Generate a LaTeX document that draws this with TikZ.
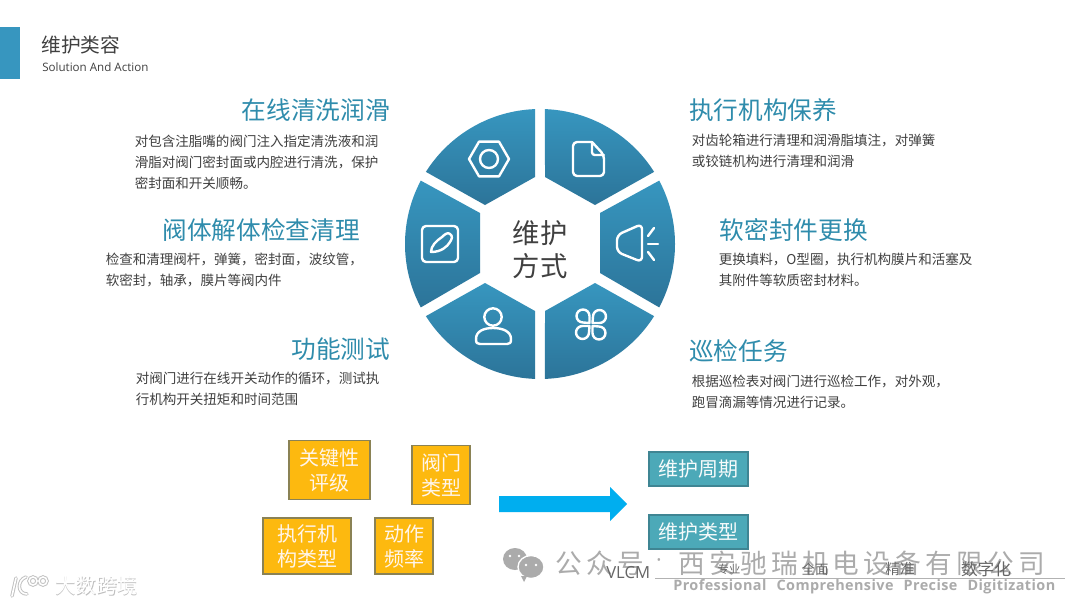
\documentclass[tikz,border=0pt]{standalone}
\usepackage{fontspec}
\setmainfont{Noto Sans CJK SC}
\newfontfamily\latinf{Open Sans}
\newfontfamily\wmfont[LetterSpace=16]{Noto Sans CJK SC}
\newfontfamily\wmfontb[LetterSpace=3]{Open Sans}
\definecolor{ttl}{HTML}{2F8CAC}
\definecolor{bodyc}{HTML}{404040}
\definecolor{segtop}{HTML}{3796BF}
\definecolor{segbot}{HTML}{2C7499}
\definecolor{orbox}{HTML}{FDB90F}
\definecolor{orline}{HTML}{8A8255}
\definecolor{tealbox}{HTML}{4CA9B8}
\definecolor{tealline}{HTML}{3F8593}
\definecolor{wm}{HTML}{ABABAB}
\definecolor{arrowc}{HTML}{00AEEF}
\tikzset{
  x=0.75pt,y=0.75pt,
  titletext/.style={inner sep=0pt,text=ttl,font=\fontsize{18.5}{22}\selectfont},
  bodytext/.style={inner sep=0pt,text=bodyc,anchor=west,align=left,font=\fontsize{10.15}{15.75}\selectfont},
  segment/.style={top color=segtop,bottom color=segbot,draw=none},
  icon/.style={draw=white,line width=1.8pt,line cap=round,line join=round,fill=none},
  orangebox/.style={draw=orline,line width=0.9pt,fill=orbox,text=white!92!orange,align=center,inner sep=0pt,font=\fontsize{15}{18.8}\selectfont},
  tealnode/.style={draw=tealline,line width=0.9pt,fill=tealbox,text=white!95!tealbox,align=center,inner sep=0pt,minimum width=74.25pt,minimum height=25.5pt,font=\fontsize{15}{18}\selectfont},
  smallwm/.style={inner sep=0pt,text=black!60},
}
\begin{document}
\begin{tikzpicture}
\useasboundingbox (0,0) rectangle (1080,-607);
\fill[white] (0,0) rectangle (1080,-607);
% header
\fill[segtop] (0,-27) rectangle (20,-79);
\node[inner sep=0pt,anchor=west,text=bodyc,font=\fontsize{14.8}{16}\selectfont] (head) at (41,-45) {维护类容};
\node[inner sep=0pt,anchor=west,text=bodyc,font=\latinf\fontsize{8.7}{10}\selectfont] (sub) at (42,-67) {Solution And Action};
% wheel
\begin{scope}[shift={(540,-244)}]
\shade[segment] (5,67) -- (55,39) -- (32.3:135) arc[start angle=32.3,end angle=87.9,radius=135] -- cycle;
\shade[segment] (-5,67) -- (-55,39) -- (147.7:135) arc[start angle=147.7,end angle=92.1,radius=135] -- cycle;
\shade[segment] (60,31) -- (60,-29) -- (-28:135) arc[start angle=-28,end angle=28,radius=135] -- cycle;
\shade[segment] (-60,31) -- (-60,-29) -- (208:135) arc[start angle=208,end angle=152,radius=135] -- cycle;
\shade[segment] (5,-67) -- (55,-39) -- (-32.3:135) arc[start angle=-32.3,end angle=-87.9,radius=135] -- cycle;
\shade[segment] (-5,-67) -- (-55,-39) -- (212.3:135) arc[start angle=212.3,end angle=267.9,radius=135] -- cycle;
\end{scope}
\node[inner sep=0pt,align=center,text=bodyc,font=\fontsize{20.5}{24.7}\selectfont] (centre) at (540,-250) {维护\\方式};
% icon nut
\draw[icon] (489,-159) +(0:20) -- +(60:20) -- +(120:20) -- +(180:20) -- +(240:20) -- +(300:20) -- cycle;
\draw[icon] (489,-159) circle (9);
% icon document
\draw[icon] (592,-142) -- (579,-142) [rounded corners=3pt] -- (573,-142) -- (573,-176) -- (604,-176) -- (604,-155) [sharp corners] -- (592,-142) -- (592,-151) [rounded corners=2pt] -- (592,-155) -- (604,-155);
% icon speaker
\draw[icon,rounded corners=4pt] (642,-224) -- (642,-262) -- (617,-252) -- (617,-235) -- cycle;
\draw[icon] (648,-236) -- (654,-228);
\draw[icon] (648,-244) -- (658,-244);
\draw[icon] (648,-252) -- (654,-260);
% icon edit
\draw[icon,rounded corners=3pt] (422,-226) rectangle (458,-262);
\draw[icon] (431,-252) .. controls (431,-246) and (436,-241) .. (442,-237) .. controls (445,-234) and (448,-232) .. (450,-234) .. controls (453,-236) and (452,-239) .. (450,-242) .. controls (447,-247) and (441,-252) .. (431,-252) -- cycle;
% icon person
\draw[icon] (493,-317) circle (8.7);
\draw[icon] (476,-339) .. controls (476,-331) and (484,-328) .. (493,-328) .. controls (502,-328) and (511,-331) .. (511,-339) .. controls (511,-343) and (510,-344) .. (507,-344) -- (480,-344) .. controls (477,-344) and (476,-343) .. (476,-339) -- cycle;
% icon clover
\begin{scope}[shift={(591,-324.5)}]
\foreach \r in {0,90,180,270}{
\draw[icon,rotate=\r] (-1.5,1.5) -- (-1.5,8.5) arc[start angle=0,end angle=270,radius=6.5] -- cycle;
}
\end{scope}
% left texts
\node[titletext,anchor=east] (t1) at (390,-110) {在线清洗润滑};
\node[bodytext] (b1) at (134.5,-162) {对包含注脂嘴的阀门注入指定清洗液和润\\滑脂对阀门密封面或内腔进行清洗，保护\\密封面和开关顺畅。};
\node[titletext,anchor=east] (t2) at (360,-230) {阀体解体检查清理};
\node[bodytext] (b2) at (105.5,-270) {检查和清理阀杆，弹簧，密封面，波纹管，\\软密封，轴承，膜片等阀内件};
\node[titletext,anchor=east] (t3) at (390.5,-349) {功能测试};
\node[bodytext] (b3) at (135.5,-389) {对阀门进行在线开关动作的循环，测试执\\行机构开关扭矩和时间范围};
% right texts
\node[titletext,anchor=west] (t4) at (689,-110) {执行机构保养};
\node[bodytext] (b4) at (691.5,-151) {对齿轮箱进行清理和润滑脂填注，对弹簧\\或铰链机构进行清理和润滑};
\node[titletext,anchor=west] (t5) at (719.5,-230) {软密封件更换};
\node[bodytext] (b5) at (718.5,-270) {更换填料，O型圈，执行机构膜片和活塞及\\其附件等软质密封材料。};
\node[titletext,anchor=west] (t6) at (689,-351) {巡检任务};
\node[bodytext] (b6) at (691.5,-392) {根据巡检表对阀门进行巡检工作，对外观，\\跑冒滴漏等情况进行记录。};
% orange boxes
\node[orangebox,minimum width=60.75pt,minimum height=44.25pt] (o1) at (329.5,-470) {关键性\\评级};
\node[orangebox,minimum width=43.5pt,minimum height=44.25pt] (o2) at (441,-475) {阀门\\类型};
\node[orangebox,minimum width=66pt,minimum height=42pt] (o3) at (307,-546) {执行机\\构类型};
\node[orangebox,minimum width=43.5pt,minimum height=42pt] (o4) at (404,-546) {动作\\频率};
% arrow
\coordinate (as) at (499,-504);
\coordinate (ae) at (627,-504);
\fill[arrowc] (as) ++(0,8) -- ++(111,0) -- ++(0,9) -- (ae) -- ++(-17,-17) -- ++(0,9) -- ++(-111,0) -- cycle;
% teal boxes
\node[tealnode] (p1) at (698.5,-469) {维护周期};
\node[tealnode] (p2) at (698.5,-532) {维护类型};
% watermarks
\begin{scope}
\fill[wm] (515,-559) ellipse (12 and 11);
\draw[white,line width=1pt,fill=wm] (531,-567) ellipse (13 and 11.5);
\fill[white] (510,-556) circle (1.4) (519,-556) circle (1.4) (526,-565) circle (1.4) (536,-565) circle (1.4);
\fill[wm] (521,-576) -- (524,-582) -- (527,-576) -- cycle;
\end{scope}
\node[inner sep=0pt,anchor=west,text=wm,font=\wmfont\fontsize{20}{24}\selectfont] (wm1) at (555,-563) {公众号};
\node[inner sep=0pt,text=wm,font=\latinf\fontsize{16}{20}\selectfont] (wmdot) at (659,-563) {·};
\node[inner sep=0pt,anchor=west,text=wm,font=\wmfont\fontsize{20}{24}\selectfont] (wm2) at (678,-563) {西安驰瑞机电设备有限公司};
\node[inner sep=0pt,anchor=west,text=black!60,font=\latinf\fontsize{12.5}{14}\selectfont] (vlcm) at (606,-573) {VLCM};
\coordinate (la) at (655,-578);
\coordinate (lb) at (1065,-578);
\draw[black!30,line width=0.5pt] (la) -- (lb);
\node[smallwm,font=\fontsize{8.5}{10}\selectfont] (s1) at (729,-569) {专业};
\node[smallwm,font=\fontsize{10}{12}\selectfont] (s2) at (815,-569) {全面};
\node[smallwm,font=\fontsize{11}{13}\selectfont] (s3) at (900,-569) {精准};
\node[smallwm,font=\fontsize{12.5}{14}\selectfont] (s4) at (986,-569) {数字化};
\node[inner sep=0pt,anchor=west,text=wm,font=\wmfontb\bfseries\fontsize{10.8}{13}\selectfont] (pro) at (673,-587) {Professional\hspace{0.7em}Comprehensive\hspace{0.7em}Precise\hspace{0.7em}Digitization};
% lower left logo watermark
\begin{scope}[line cap=round]
\foreach \c/\w in {black!25/2.6pt,white/1.2pt}{
\draw[\c,line width=\w] (16,-578) -- (12,-596) (26,-577) .. controls (17,-580) and (17,-594) .. (27,-594);
\draw[\c,line width=\w] (33,-581) circle (4) (43,-581) circle (4);
}
\end{scope}
\node[inner sep=0pt,anchor=west,text=black!25,font=\fontsize{15.5}{18}\selectfont] (dsh) at (55.6,-586.6) {大数跨境};
\node[inner sep=0pt,anchor=west,text=white,font=\fontsize{15.5}{18}\selectfont] (dsw) at (55,-586) {大数跨境};
\end{tikzpicture}
\end{document}
